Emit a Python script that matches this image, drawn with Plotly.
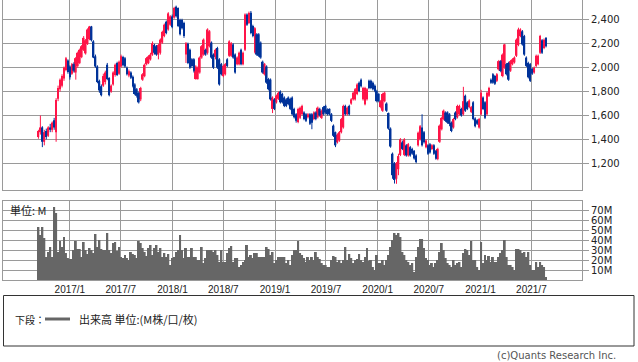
import pandas as pd
import plotly.graph_objects as go

# ---------------- data (weekly) ----------------
start_date = "2016-09-11"

opens = [1420,1460,1500,1380,1470,1430,1500,1480,1560,1460,
         1740,1820,1850,1910,1980,2060,2010,1950,2030,1960,
         2015,2040,2090,2150,2120,2200,2240,2345,2220,2095,
         2010,1890,1845,1850,1880,2025,1915,1800,1860,1940,
         2040,1950,2010,2090,2080,2000,1935,1960,1925,1860,
         1820,1790,1735,1900,1930,2030,2040,2070,2110,2190,
         2180,2110,2125,2210,2265,2385,2320,2360,2430,2420,
         2510,2500,2400,2400,2375,2110,2200,2150,2070,2070,
         1905,1905,1960,2085,2110,2150,2125,2180,2210,2110,
         2090,2165,2070,2030,1930,1945,2070,2100,2100,2195,
         2110,2030,2030,2150,2030,2150,2445,2375,2460,2350,
         2130,2280,2280,2210,2050,1945,2010,1905,1900,1655,
         1735,1710,1740,1800,1780,1750,1735,1750,1740,1750,
         1655,1610,1545,1580,1610,1625,1610,1585,1610,1610,
         1570,1625,1585,1655,1580,1670,1680,1650,1655,1610,
         1515,1460,1375,1390,1460,1500,1680,1610,1680,1700,
         1735,1735,1780,1875,1900,1735,1695,1735,1890,1890,
         1875,1850,1805,1780,1670,1640,1720,1700,1620,1490,
         1280,1200,1070,1150,1270,1375,1270,1350,1265,1335,
         1320,1305,1265,1350,1400,1500,1460,1335,1350,1360,
         1320,1350,1305,1235,1380,1485,1570,1625,1625,1610,
         1540,1500,1625,1585,1610,1655,1610,1765,1710,1670,
         1630,1710,1575,1560,1500,1610,1750,1710,1610,1765,
         1900,1945,1930,1890,1986,2055,1930,2000,2030,2040,
         1975,2030,2045,2100,2190,2265,2305,2265,2085,2040,
         2030,1990,1960,2015,2030,2125,2230,2165,2250]

highs = [1480,1600,1510,1480,1490,1510,1530,1550,1580,1745,
         1850,1910,1945,2010,2090,2070,2020,2040,2045,2090,
         2135,2160,2190,2265,2240,2330,2350,2350,2230,2110,
         2020,1900,1860,1950,1975,2040,1920,1860,1970,2035,
         2050,2060,2110,2100,2090,2010,1985,1970,1935,1870,
         1830,1800,1840,1955,2035,2090,2105,2125,2220,2200,
         2190,2200,2245,2310,2370,2395,2465,2440,2445,2510,
         2520,2505,2410,2410,2385,2215,2210,2160,2080,2080,
         2020,2010,2095,2190,2245,2160,2330,2315,2220,2120,
         2160,2175,2080,2040,2025,2040,2080,2230,2215,2205,
         2120,2095,2135,2160,2135,2455,2455,2470,2475,2360,
         2340,2290,2290,2220,2060,2040,2020,1915,1910,1760,
         1745,1775,1800,1810,1790,1760,1745,1760,1750,1760,
         1665,1620,1665,1675,1690,1635,1620,1620,1620,1620,
         1635,1635,1675,1665,1650,1680,1690,1660,1660,1620,
         1525,1465,1450,1470,1580,1690,1690,1675,1690,1745,
         1800,1830,1870,1885,1910,1840,1840,1830,1900,1900,
         1885,1860,1815,1790,1730,1790,1800,1710,1625,1500,
         1290,1210,1210,1280,1410,1390,1410,1360,1370,1345,
         1330,1310,1275,1465,1520,1610,1470,1400,1360,1370,
         1360,1360,1310,1330,1525,1590,1650,1635,1635,1620,
         1550,1580,1635,1690,1690,1665,1840,1775,1720,1735,
         1680,1720,1585,1570,1580,1815,1760,1720,1800,1840,
         1910,1955,1940,1955,2065,2065,2120,2200,2040,2050,
         2065,2080,2095,2245,2335,2330,2315,2275,2095,2050,
         2040,2000,2010,2110,2110,2275,2240,2245,2255]

lows = [1405,1440,1335,1350,1400,1420,1460,1460,1480,1380,
        1720,1800,1835,1890,1970,1950,1900,1940,1960,1900,
        2000,2030,2080,2140,2110,2190,2230,2220,2080,2000,
        1870,1790,1760,1840,1860,1895,1760,1790,1850,1925,
        1930,1940,2000,2010,2000,1935,1920,1905,1835,1770,
        1750,1700,1720,1890,1920,2020,2030,2060,2100,2110,
        2100,2070,2110,2200,2255,2280,2310,2350,2330,2410,
        2420,2340,2270,2320,2250,2040,2030,1990,2000,1960,
        1900,1900,1950,2075,2100,2100,2110,2170,2075,1990,
        2070,1990,1850,1935,1920,1935,2005,2090,2090,2075,
        1950,2020,2020,2020,2020,2140,2350,2365,2280,2255,
        2120,2100,2090,2075,1950,1935,1865,1810,1725,1620,
        1645,1700,1730,1700,1700,1670,1670,1685,1645,1600,
        1575,1540,1535,1570,1600,1560,1545,1575,1520,1485,
        1560,1560,1575,1590,1570,1600,1615,1600,1600,1545,
        1420,1335,1365,1380,1450,1490,1600,1600,1600,1690,
        1725,1725,1770,1795,1835,1725,1685,1725,1820,1820,
        1810,1795,1710,1710,1660,1630,1710,1630,1480,1330,
        1070,1030,1028,1100,1260,1310,1260,1255,1255,1255,
        1270,1230,1200,1340,1390,1340,1365,1325,1270,1280,
        1310,1270,1230,1225,1370,1475,1560,1545,1530,1510,
        1460,1490,1560,1575,1600,1590,1600,1630,1645,1660,
        1620,1560,1500,1520,1490,1600,1645,1570,1600,1755,
        1865,1865,1855,1880,1976,1962,1920,1990,1935,1890,
        1965,2020,2035,2090,2180,2255,2185,2100,2005,1910,
        1880,1940,1950,2005,2020,2115,2115,2155,2170]

closes = [1470,1500,1380,1460,1420,1500,1480,1540,1500,1730,
          1830,1900,1930,2000,2080,1965,1920,2030,1975,2080,
          2125,2150,2180,2250,2230,2320,2345,2230,2085,2010,
          1880,1810,1770,1930,1960,1905,1770,1850,1960,2025,
          1940,2050,2095,2020,2010,1945,1970,1915,1845,1780,
          1765,1710,1830,1945,2025,2080,2095,2110,2205,2125,
          2110,2190,2235,2300,2360,2290,2455,2430,2340,2500,
          2430,2350,2280,2330,2265,2205,2040,2000,2015,1975,
          2010,2000,2085,2180,2235,2110,2320,2305,2085,2000,
          2150,2000,1860,1945,2015,2030,2015,2220,2205,2085,
          1960,2085,2125,2030,2125,2445,2360,2458,2290,2265,
          2330,2110,2100,2085,1960,2030,1875,1820,1735,1750,
          1655,1765,1790,1710,1710,1680,1680,1695,1655,1610,
          1585,1555,1655,1665,1680,1570,1555,1610,1530,1540,
          1625,1570,1665,1600,1640,1610,1625,1610,1610,1555,
          1430,1350,1440,1460,1570,1680,1610,1665,1610,1735,
          1790,1820,1860,1805,1845,1830,1830,1820,1830,1830,
          1820,1805,1720,1720,1720,1780,1790,1640,1490,1340,
          1100,1060,1200,1260,1400,1320,1400,1265,1360,1265,
          1280,1240,1210,1455,1510,1350,1375,1390,1280,1290,
          1350,1280,1240,1320,1515,1580,1640,1555,1540,1530,
          1470,1570,1570,1680,1680,1600,1720,1640,1655,1725,
          1670,1570,1510,1530,1570,1790,1655,1580,1790,1830,
          1875,1875,1865,1945,2055,1972,2110,2195,1945,1900,
          2055,2070,2085,2235,2320,2320,2195,2110,2015,1920,
          1890,1950,2000,2100,2100,2265,2125,2235,2180]

volume_m = [53,45,53,42,23,28,33,23,73,67,
            28,39,33,43,27,22,21,21,30,39,
            31,31,23,38,30,26,32,30,27,46,
            33,40,31,30,30,47,30,27,37,38,
            29,33,23,22,25,22,20,28,26,25,
            22,39,37,32,28,24,32,35,25,32,
            35,28,32,23,27,23,26,15,22,23,
            28,30,45,30,22,32,23,23,32,23,
            23,20,20,33,17,22,30,30,30,28,
            30,25,18,30,18,18,27,32,34,18,
            22,22,13,15,18,20,35,23,25,22,
            27,27,23,23,23,23,33,31,25,28,
            17,20,23,23,23,23,17,20,15,25,
            30,30,39,27,25,22,18,23,20,23,
            20,28,23,21,17,15,15,13,13,20,
            24,23,18,20,17,20,33,20,26,22,
            17,20,21,26,20,18,23,32,19,20,
            13,10,25,17,17,20,15,20,25,33,
            40,47,45,47,43,28,25,20,18,15,
            17,8,23,33,41,41,32,22,20,15,
            17,13,17,20,28,37,30,22,17,15,
            13,20,15,17,18,13,27,31,30,25,
            39,20,20,13,10,38,17,25,20,24,
            18,23,18,18,23,27,30,40,23,15,
            15,13,10,31,31,30,27,28,23,28,
            15,10,10,18,13,18,15,13,3]

x_tick_dates = ["2017-01-01", "2017-07-01", "2018-01-01", "2018-07-01", "2019-01-01",
                "2019-07-01", "2020-01-01", "2020-07-01", "2021-01-01", "2021-07-01"]
x_tick_labels = ["2017/1", "2017/7", "2018/1", "2018/7", "2019/1",
                 "2019/7", "2020/1", "2020/7", "2021/1", "2021/7"]
price_ticks = [1200, 1400, 1600, 1800, 2000, 2200, 2400]
volume_ticks = [10, 20, 30, 40, 50, 60, 70]
volume_tick_labels = ["10M", "20M", "30M", "40M", "50M", "60M", "70M"]

# ---------------- styling ----------------
UP = "#ff1548"
DOWN = "#00339a"
GRID = "#9a9a9a"
VOL = "#666666"
W, H = 638, 362
ML, MR, MT, MB = 3, 56, 0, 82
PLOT_W = W - ML - MR
PLOT_H = H - MT - MB

dates = pd.date_range(start_date, periods=len(closes), freq="7D")
week_ms = 7 * 24 * 3600 * 1000


def px_x(px):
    return (px - ML) / PLOT_W


def px_y(py):
    return (H - MB - py) / PLOT_H


fig = go.Figure()

for is_up, color in ((True, UP), (False, DOWN)):
    idx = [i for i in range(len(closes)) if (closes[i] >= opens[i]) == is_up]
    wx, wy = [], []
    for i in idx:
        wx += [dates[i], dates[i], None]
        wy += [lows[i], highs[i], None]
    fig.add_trace(go.Scatter(x=wx, y=wy, mode="lines", xaxis="x2", yaxis="y",
                             line=dict(color=color, width=1), hoverinfo="skip",
                             showlegend=False))
    fig.add_trace(go.Bar(x=[dates[i] for i in idx],
                         y=[max(abs(closes[i] - opens[i]), 4) for i in idx],
                         base=[min(opens[i], closes[i]) for i in idx],
                         width=week_ms * 0.85, marker=dict(color=color, line=dict(width=0)),
                         xaxis="x2", yaxis="y", showlegend=False))

fig.add_trace(go.Bar(x=dates, y=volume_m, width=week_ms, marker=dict(color=VOL, line=dict(width=0)),
                     xaxis="x", yaxis="y2", showlegend=False))

x_range = ["2016-05-08", "2021-12-28"]
axis_common = dict(showgrid=True, gridcolor=GRID, gridwidth=1, showline=True, mirror=True,
                   linecolor=GRID, linewidth=1, zeroline=False)
tickfont = dict(family="DejaVu Sans", size=10, color="#222222")

fig.update_layout(
    width=W, height=H,
    margin=dict(l=ML, r=MR, t=MT, b=MB, pad=0),
    paper_bgcolor="white", plot_bgcolor="white",
    barmode="overlay", showlegend=False,
    xaxis=dict(domain=[0, 1], anchor="y2", type="date", range=x_range,
               tickvals=x_tick_dates, ticktext=x_tick_labels, ticks="",
               tickfont=dict(family="Liberation Sans", size=10, color="#222222"),
               **axis_common),
    xaxis2=dict(domain=[0, 1], anchor="y", type="date", matches="x", range=x_range,
                tickvals=x_tick_dates, showticklabels=False, ticks="", **axis_common),
    yaxis=dict(domain=[px_y(190), 1], anchor="x2", side="right", range=[976, 2567],
               tickvals=price_ticks, tickformat=",d", ticks="outside", ticklen=6,
               tickcolor=GRID, tickfont=tickfont, **axis_common),
    yaxis2=dict(domain=[0, px_y(201)], anchor="x", side="right", range=[0, 79],
                tickvals=volume_ticks, ticktext=volume_tick_labels, ticks="outside", ticklen=6,
                tickcolor=GRID, tickfont=tickfont, **axis_common),
)

cjk = "Noto Sans CJK JP"
fig.add_annotation(x=px_x(8), y=px_y(210), xref="paper", yref="paper", text="単位: M",
                   showarrow=False, xanchor="left", yanchor="middle",
                   font=dict(family=cjk, size=11, color="#222222"))

# legend box
fig.add_shape(type="rect", xref="paper", yref="paper",
              x0=px_x(3.5), x1=px_x(634), y0=px_y(295.5), y1=px_y(346),
              line=dict(color="#333333", width=1), fillcolor="rgba(0,0,0,0)")
fig.add_annotation(x=px_x(13), y=px_y(319), xref="paper", yref="paper", text="下段：",
                   showarrow=False, xanchor="left", yanchor="middle",
                   font=dict(family=cjk, size=10, color="#222222"))
fig.add_shape(type="line", xref="paper", yref="paper",
              x0=px_x(45), x1=px_x(70), y0=px_y(319), y1=px_y(319),
              line=dict(color=VOL, width=3))
fig.add_annotation(x=px_x(77), y=px_y(319), xref="paper", yref="paper",
                   text="出来高 単位:(M株/口/枚)",
                   showarrow=False, xanchor="left", yanchor="middle",
                   font=dict(family=cjk, size=11, color="#222222"))
fig.add_annotation(x=px_x(618), y=px_y(355), xref="paper", yref="paper",
                   text="(c)Quants Research Inc.",
                   showarrow=False, xanchor="right", yanchor="middle",
                   font=dict(family="DejaVu Sans", size=10, color="#555555"))

fig.write_html("out.html", config={"displayModeBar": False},
               post_script="document.body.style.margin='0';document.body.style.overflow='hidden';")
